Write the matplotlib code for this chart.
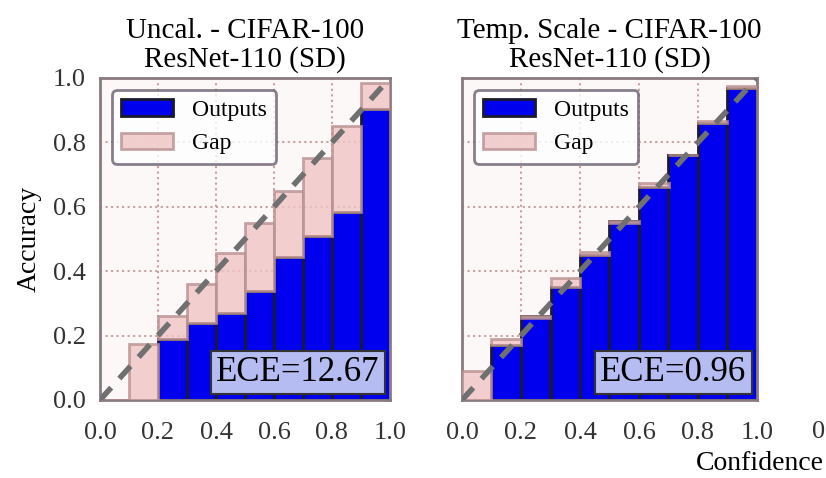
import matplotlib
matplotlib.use("Agg")
import matplotlib.pyplot as plt
import numpy as np

bins = np.arange(0, 1.0, 0.1)
unc_out = [0, 0, 0.19, 0.24, 0.27, 0.34, 0.445, 0.51, 0.585, 0.905]
unc_gap_top = [0, 0.175, 0.26, 0.36, 0.455, 0.55, 0.65, 0.75, 0.85, 0.985]
ts_out = [0, 0.17, 0.26, 0.35, 0.45, 0.555, 0.66, 0.76, 0.86, 0.97]
ts_gap_top = [0.09, 0.19, 0.255, 0.38, 0.46, 0.55, 0.675, 0.76, 0.865, 0.975]
titles = ["Uncal. - CIFAR-100\nResNet-110 (SD)", "Temp. Scale - CIFAR-100\nResNet-110 (SD)"]
eces = ["ECE=12.67", "ECE=0.96"]
ticks = [0.0, 0.2, 0.4, 0.6, 0.8, 1.0]

plt.rcParams['font.family'] = ['Liberation Serif', 'DejaVu Serif']
fig = plt.figure(figsize=(8.26, 4.78), dpi=100)
axes = [fig.add_axes([100/826, 78/478, 290/826, 322/478]),
        fig.add_axes([462/826, 78/478, 295/826, 322/478])]
data = [(unc_out, unc_gap_top), (ts_out, ts_gap_top)]
for i, (ax, (out, top)) in enumerate(zip(axes, data)):
    out = np.array(out); top = np.array(top)
    ax.set_facecolor('#fdf8f8')
    ax.grid(True, linestyle=':', color='#c8a0a0', linewidth=1.5)
    ax.set_axisbelow(True)
    ax.bar(bins, out, width=0.1, align='edge', color='#0000ee', edgecolor='#1a1a2e', linewidth=2, label='Outputs', zorder=2)
    lo = np.minimum(out, top); hi = np.maximum(out, top)
    ax.bar(bins, hi - lo, bottom=lo, width=0.1, align='edge', color='#f0c4c4', alpha=0.8,
           edgecolor='#b89090', linewidth=2, label='Gap', zorder=3)
    ax.plot([0, 1], [0, 1], linestyle='--', color='#707070', linewidth=4, dashes=(3, 2.2), zorder=4)
    ax.set_xlim(0, 1); ax.set_ylim(0, 1)
    ax.set_xticks(ticks); ax.set_yticks(ticks)
    ax.set_xticklabels([f"{t:.1f}" for t in ticks], fontsize=19, color='#333')
    if i == 0:
        ax.set_yticklabels([f"{t:.1f}" for t in ticks], fontsize=19, color='#333')
        ax.set_ylabel("Accuracy", fontsize=20, labelpad=8)
    else:
        ax.set_yticklabels([])
    ax.tick_params(axis='x', length=0, pad=16)
    ax.tick_params(axis='y', length=0, pad=10)
    for s in ax.spines.values():
        s.set_color('#8a7a80'); s.set_linewidth(2)
    ax.set_title(titles[i], fontsize=21, linespacing=1.1, pad=8)
    leg = ax.legend(loc='upper left', fontsize=17, frameon=True, fancybox=True, handlelength=2.2)
    leg.get_frame().set_edgecolor('#6a6070'); leg.get_frame().set_linewidth(2)
    ax.text(0.965, 0.035, eces[i], transform=ax.transAxes, ha='right', va='bottom', fontsize=25, zorder=6,
            bbox=dict(boxstyle='square,pad=0.15', facecolor='#b4bcf2', edgecolor='#333', linewidth=1.5))
fig.text(812/826, 1 - 432/478, "0", fontsize=19, color='#333', ha='left', va='center')
fig.text(824/826, 1 - 463/478, "Confidence", fontsize=20, ha='right', va='center')
fig.savefig("out.png", dpi=100)
